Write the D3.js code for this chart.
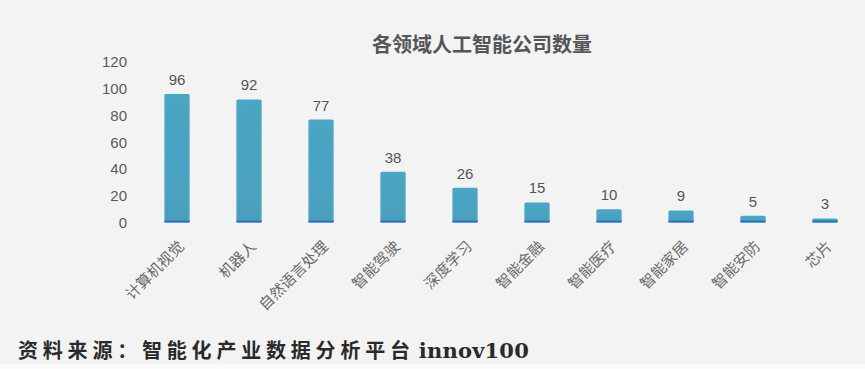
<!DOCTYPE html>
<html>
<head>
<meta charset="utf-8">
<script src="https://cdn.jsdelivr.net/npm/d3@7"></script>
<style>
  body { margin: 0; background: #f3f3f4; }
  svg { display: block; }
</style>
</head>
<body>
<div id="chart"></div>
<script>
const categories = ["计算机视觉", "机器人", "自然语言处理", "智能驾驶", "深度学习",
  "智能金融", "智能医疗", "智能家居", "智能安防", "芯片"];
const counts = [96, 92, 77, 38, 26, 15, 10, 9, 5, 3];
const yTicks = [0, 20, 40, 60, 80, 100, 120];

const w = 865;
const h = 369;
const margin = { top: 62, right: 4, bottom: 146, left: 141 };

const svg = d3
  .select("#chart")
  .append("svg")
  .attr("width", w)
  .attr("height", h)
  .style("background-color", "#f3f3f4");

// white strip at the bottom
svg.append("rect")
  .attr("x", 0).attr("y", 364).attr("width", w).attr("height", 5)
  .attr("fill", "#fbfbfb");

const xScale = d3
  .scaleBand()
  .domain(categories)
  .range([margin.left, w - margin.right])
  .paddingInner(0.65)
  .paddingOuter(0.325);

const yScale = d3
  .scaleLinear()
  .domain([0, 120])
  .range([h - margin.bottom - 0.5, margin.top]);

// y axis, labels only
const yAxis = d3.axisLeft(yScale).tickValues(yTicks).tickSize(0).tickPadding(0);
svg
  .append("g")
  .attr("transform", "translate(127, 0)")
  .call(yAxis)
  .call((g) => g.select(".domain").remove())
  .selectAll("text")
  .attr("font-family", "Arial, 'Liberation Sans', sans-serif")
  .attr("font-size", 15)
  .attr("fill", "#5a5a5a");

// Bars
const grad = svg.append("defs").append("linearGradient")
  .attr("id", "barGrad").attr("x1", 0).attr("x2", 0).attr("y1", 0).attr("y2", 1);
grad.append("stop").attr("offset", "0%").attr("stop-color", "#4aa6c4");
grad.append("stop").attr("offset", "100%").attr("stop-color", "#4a9fc0");

const bars = svg.append("g").selectAll("g")
  .data(counts)
  .enter()
  .append("g");

bars.append("rect")
  .attr("x", (d, i) => xScale(categories[i]))
  .attr("y", (d) => yScale(d))
  .attr("width", xScale.bandwidth())
  .attr("height", (d) => yScale(0) - yScale(d))
  .attr("rx", 1.5)
  .attr("fill", "url(#barGrad)");

bars.append("rect")
  .attr("x", (d, i) => xScale(categories[i]))
  .attr("y", yScale(0) - 2)
  .attr("width", xScale.bandwidth())
  .attr("height", 2)
  .attr("fill", "#2f6fb8");

// value labels
bars.append("text")
  .attr("x", (d, i) => xScale(categories[i]) + xScale.bandwidth() / 2)
  .attr("y", (d) => yScale(d) - 9)
  .attr("text-anchor", "middle")
  .attr("font-family", "Arial, 'Liberation Sans', sans-serif")
  .attr("font-size", 15)
  .attr("fill", "#555")
  .text((d) => d);

// category labels, rotated
svg.append("g").selectAll("text")
  .data(categories)
  .enter()
  .append("text")
  .attr("transform", (d) =>
    `translate(${xScale(d) + xScale.bandwidth() / 2 + 8}, ${yScale(0) + 25}) rotate(-45)`)
  .attr("text-anchor", "end")
  .attr("font-family", "'Noto Sans CJK SC', sans-serif")
  .attr("font-size", 15)
  .attr("fill", "#6a6a6a")
  .text((d) => d);

// Title
svg.append("text")
  .attr("x", 482)
  .attr("y", 52)
  .attr("text-anchor", "middle")
  .attr("font-family", "'Noto Sans CJK SC', sans-serif")
  .attr("font-weight", "bold")
  .attr("font-size", 20)
  .attr("fill", "#555")
  .text("各领域人工智能公司数量");

// Source
svg.append("text")
  .attr("x", 18)
  .attr("y", 358)
  .attr("font-family", "'Noto Sans CJK SC', serif")
  .attr("font-weight", "bold")
  .attr("font-size", 20)
  .attr("letter-spacing", 4.8)
  .attr("fill", "#2a2a2a")
  .text("资料来源：智能化产业数据分析平台")
  .append("tspan")
  .attr("font-family", "'DejaVu Serif', 'Liberation Serif', serif")
  .attr("font-size", 21)
  .attr("letter-spacing", 0.2)
  .attr("dx", 4)
  .text("innov100");
</script>
</body>
</html>
